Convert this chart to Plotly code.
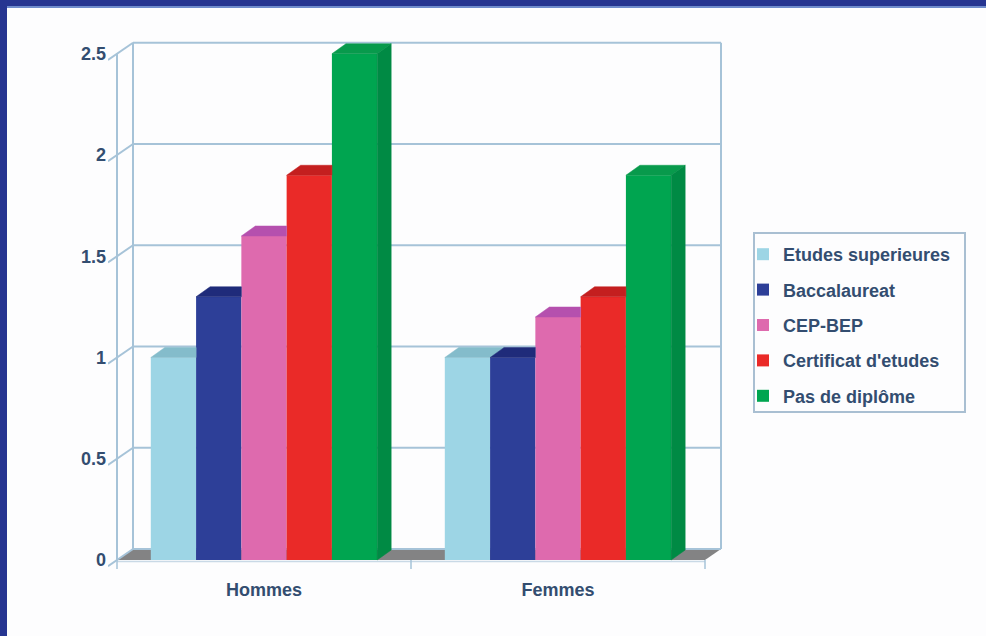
import plotly.graph_objects as go

# ---- data ----
categories = ["Hommes", "Femmes"]
series_names = ["Etudes superieures", "Baccalaureat", "CEP-BEP", "Certificat d'etudes", "Pas de diplôme"]
etudes_sup = [1.0, 1.0]
baccalaureat = [1.3, 1.0]
cep_bep = [1.6, 1.2]
certificat = [1.9, 1.3]
pas_diplome = [2.5, 1.9]
y_ticks = [0, 0.5, 1, 1.5, 2, 2.5]
y_tick_labels = ["0", "0.5", "1", "1.5", "2", "2.5"]

series_values = [etudes_sup, baccalaureat, cep_bep, certificat, pas_diplome]
front_colors = ["#9dd5e5", "#2d3f98", "#de6aae", "#ea2a28", "#00a550"]
top_colors = ["#84bccb", "#1f2b7a", "#b550ae", "#c41f1f", "#089a4c"]
side_colors = ["#7fb3c2", "#1c2870", "#a94a9e", "#b81c1c", "#008a44"]

# ---- geometry (pixels) ----
W, H = 986, 636
SX = 294.0          # px per x unit
SY = 202.5          # px per y unit
X_FRONT = 117       # pixel of x=-0.5
Y_ZERO = 560        # pixel of y=0
L, R_PX, T, B_PX = 108, 723, 37, 569
x_range = [-0.5 - (X_FRONT - L) / SX, -0.5 + (R_PX - X_FRONT) / SX]
y_range = [-(B_PX - Y_ZERO) / SY, (Y_ZERO - T) / SY]
DXW, DYW = 16 / SX, 11 / SY     # wall depth
DXB, DYB = 14 / SX, 10 / SY     # bar depth
GROUP_W = 0.77
BAR_W = GROUP_W / len(series_values)

fig = go.Figure()

for i, (name, vals) in enumerate(zip(series_names, series_values)):
    fig.add_trace(go.Bar(
        x=list(range(len(categories))), y=vals, name=name,
        marker=dict(color=front_colors[i], line=dict(width=0)),
        legendgroup=name, hoverinfo="skip",
    ))
    for c, v in enumerate(vals):
        xl = c - GROUP_W / 2 + i * BAR_W
        xr = xl + BAR_W
        nxt = series_values[i + 1][c] if i + 1 < len(series_values) else None
        if nxt is not None and nxt > v:
            tx = [xl, xr, xr, xl + DXB, xl]
        else:
            tx = [xl, xr, xr + DXB, xl + DXB, xl]
        ty = [v, v, v + DYB, v + DYB, v]
        fig.add_trace(go.Scatter(x=tx, y=ty, mode="lines", fill="toself",
                                 fillcolor=top_colors[i], line=dict(color=top_colors[i], width=0.5),
                                 showlegend=False, legendgroup=name, hoverinfo="skip"))
        if nxt is None or nxt < v:
            base = 0 if nxt is None else nxt
            sx = [xr, xr + DXB, xr + DXB, xr, xr]
            sy = [base, base + DYB, v + DYB, v, base]
            fig.add_trace(go.Scatter(x=sx, y=sy, mode="lines", fill="toself",
                                     fillcolor=side_colors[i], line=dict(color=side_colors[i], width=0.5),
                                     showlegend=False, legendgroup=name, hoverinfo="skip"))

# ---- walls, floor, grid ----
axis_col = "#a6c3d8"
shapes = []
x0f, x1f = -0.5, len(categories) - 0.5
top_v = y_ticks[-1]
shapes.append(dict(type="path", xref="x", yref="y", layer="below",
                   path=f"M{x0f},0 L{x1f},0 L{x1f + DXW},{DYW} L{x0f + DXW},{DYW} Z",
                   fillcolor="#838384", line=dict(width=0)))
for v in y_ticks:
    shapes.append(dict(type="line", xref="x", yref="y", layer="below",
                       x0=x0f + DXW, x1=x1f + DXW, y0=v + DYW, y1=v + DYW,
                       line=dict(color=axis_col, width=2)))
    shapes.append(dict(type="line", xref="x", yref="y", layer="below",
                       x0=x_range[0], y0=v - (x0f - x_range[0]) * DYW / DXW,
                       x1=x0f + DXW, y1=v + DYW,
                       line=dict(color=axis_col, width=2)))
for xx in (x0f + DXW, x1f + DXW):
    shapes.append(dict(type="line", xref="x", yref="y", layer="below",
                       x0=xx, x1=xx, y0=DYW, y1=top_v + DYW,
                       line=dict(color=axis_col, width=2)))
shapes.append(dict(type="line", xref="x", yref="y", layer="below",
                   x0=x0f, x1=x0f, y0=0, y1=top_v, line=dict(color=axis_col, width=2)))
shapes.append(dict(type="line", xref="x", yref="y", layer="below",
                   x0=x0f, x1=x1f, y0=-1.5 / SY, y1=-1.5 / SY, line=dict(color="#c9d9e6", width=1.5)))
for k in range(len(categories) + 1):
    xx = x0f + k
    shapes.append(dict(type="line", xref="x", yref="y", layer="below",
                       x0=xx, x1=xx, y0=0, y1=y_range[0], line=dict(color=axis_col, width=1.5)))

# ---- frame and legend box (paper coordinates from pixels) ----
PW, PH = R_PX - L, B_PX - T
def px_x(p): return (p - L) / PW
def px_y(p): return (B_PX - p) / PH
shapes.append(dict(type="rect", xref="paper", yref="paper", x0=px_x(0), x1=px_x(W),
                   y0=px_y(6), y1=px_y(0), fillcolor="#263591", line=dict(width=0)))
shapes.append(dict(type="rect", xref="paper", yref="paper", x0=px_x(0), x1=px_x(W),
                   y0=px_y(8), y1=px_y(6), fillcolor="#6f8ccc", line=dict(width=0)))
shapes.append(dict(type="rect", xref="paper", yref="paper", x0=px_x(0), x1=px_x(7),
                   y0=px_y(H), y1=px_y(0), fillcolor="#263591", line=dict(width=0)))
shapes.append(dict(type="rect", xref="paper", yref="paper", layer="below",
                   x0=px_x(754), x1=px_x(965), y0=px_y(412), y1=px_y(233),
                   fillcolor="#fdfdfe", line=dict(color="#a9bfd2", width=2)))

text_col = "#334d70"
font = dict(family="Liberation Sans, Arial, sans-serif", size=18, color=text_col, weight="bold")

fig.update_layout(
    width=W, height=H,
    margin=dict(l=L, r=W - R_PX, t=T, b=H - B_PX, pad=0),
    paper_bgcolor="#fdfdfe", plot_bgcolor="rgba(0,0,0,0)",
    barmode="group", bargap=1 - GROUP_W, bargroupgap=0,
    shapes=shapes,
    font=font,
    xaxis=dict(range=x_range, showgrid=False, zeroline=False, showline=False,
               tickvals=list(range(len(categories))), ticktext=categories, ticks="",
               ticklabelstandoff=8, tickfont=font, fixedrange=True),
    yaxis=dict(range=y_range, showgrid=False, zeroline=False, showline=False,
               tickvals=y_ticks, ticktext=y_tick_labels, ticks="",
               ticklabelstandoff=1, tickfont=font, fixedrange=True),
    legend=dict(x=px_x(743), y=px_y(236), xanchor="left", yanchor="top",
                borderwidth=0, bgcolor="rgba(0,0,0,0)",
                font=dict(family="Liberation Sans, Arial, sans-serif", size=18, color=text_col, weight="bold"),
                traceorder="grouped", tracegroupgap=9),
    showlegend=True,
)

fig.write_html("out.html")
